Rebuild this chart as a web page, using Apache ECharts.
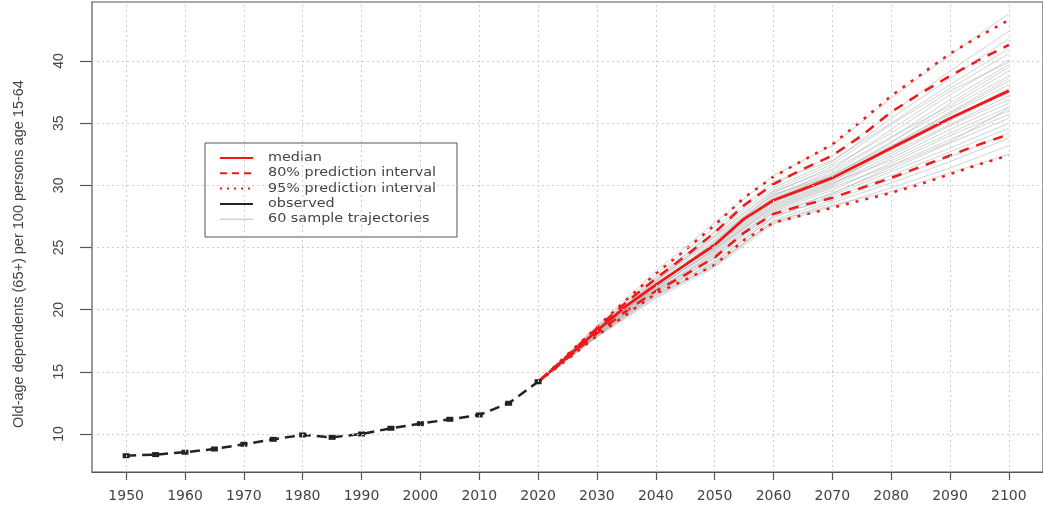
<!DOCTYPE html>
<html><head><meta charset="utf-8">
<script src="https://cdn.jsdelivr.net/npm/echarts@6/dist/echarts.min.js"></script>
<style>html,body{margin:0;padding:0;background:#fff}#c{width:1043px;height:510px}</style>
</head><body><div id="c"></div>
<script>
// ---------- data ----------
const obsYears = [1950,1955,1960,1965,1970,1975,1980,1985,1990,1995,2000,2005,2010,2015,2020];
const obsValues = [8.25,8.34,8.53,8.79,9.17,9.57,9.92,9.73,10.0,10.46,10.83,11.18,11.53,12.47,14.2];

const projYears = [2020,2025,2030,2035,2040,2045,2050,2055,2060,2065,2070,2075,2080,2085,2090,2095,2100];
const medianValues = [14.2,16.2,18.3,20.3,22.0,23.6,25.2,27.3,28.8,29.7,30.6,31.8,33.0,34.2,35.4,36.5,37.6];
const pi80Lower = [14.2,16.1,18.1,19.9,21.5,22.8,24.2,26.2,27.7,28.4,29.0,29.8,30.6,31.5,32.4,33.3,34.1];
const pi80Upper = [14.2,16.3,18.5,20.6,22.5,24.3,26.2,28.4,30.1,31.3,32.4,34.0,35.9,37.4,38.8,40.1,41.3];
const pi95Lower = [14.2,16.0,17.9,19.6,21.3,22.4,23.6,25.6,27.0,27.6,28.2,28.8,29.4,30.1,30.9,31.7,32.4];
const pi95Upper = [14.2,16.4,18.6,20.8,22.9,24.8,26.8,29.0,30.7,32.0,33.3,35.2,37.2,38.9,40.6,42.0,43.3];

const trajYears = [2020,2030,2040,2050,2060,2070,2080,2090,2100];
const trajectories = [
  [14.2,18.7,23.1,27.0,30.8,33.2,37.0,40.5,43.8],
  [14.2,18.5,22.6,26.3,30.1,32.4,35.8,39.2,42.4],
  [14.2,18.6,22.8,26.6,30.3,32.0,35.0,38.1,41.0],
  [14.2,18.4,22.4,26.0,29.6,31.7,34.9,37.8,40.6],
  [14.2,18.3,22.2,25.6,29.4,31.5,34.2,37.3,40.1],
  [14.2,18.5,22.3,25.8,29.2,31.0,33.8,36.9,39.7],
  [14.2,18.2,22.0,25.4,29.1,31.2,33.9,36.4,39.2],
  [14.2,18.4,22.1,25.2,28.9,30.8,33.5,36.2,38.8],
  [14.2,18.3,21.9,25.3,29.0,30.9,33.2,35.8,38.4],
  [14.2,18.1,21.7,24.9,28.6,30.5,33.0,35.7,38.1],
  [14.2,18.3,22.0,25.1,28.8,30.6,32.8,35.3,37.8],
  [14.2,18.2,21.8,24.8,28.5,30.3,32.9,35.2,37.5],
  [14.2,18.4,22.1,25.0,28.7,30.4,32.6,34.9,37.2],
  [14.2,18.0,21.6,24.6,28.3,30.1,32.4,34.8,36.9],
  [14.2,18.1,21.5,24.5,28.1,29.9,32.2,34.5,36.6],
  [14.2,18.3,21.8,24.7,28.4,30.2,32.0,34.2,36.3],
  [14.2,17.9,21.3,24.2,27.9,29.6,31.8,34.0,36.0],
  [14.2,18.2,21.6,24.4,28.0,29.8,31.6,33.7,35.7],
  [14.2,18.0,21.4,24.1,27.6,29.4,31.3,33.4,35.4],
  [14.2,17.9,21.2,23.9,27.4,29.2,31.1,33.0,35.0],
  [14.2,18.1,21.4,23.8,27.5,29.0,30.8,32.7,34.6],
  [14.2,17.8,21.0,23.6,27.2,28.8,30.5,32.3,34.2],
  [14.2,17.9,21.1,23.7,27.0,28.6,30.2,31.9,33.8],
  [14.2,17.8,20.9,23.4,26.9,28.3,29.8,31.4,33.2],
  [14.2,18.0,21.2,23.5,27.1,28.4,29.5,31.0,32.5],
  [14.2,18.6,22.5,26.2,29.8,31.9,35.4,38.6,41.8],
  [14.2,18.2,22.3,25.9,29.5,31.3,34.5,37.6,39.9],
  [14.2,18.1,21.9,25.5,29.3,30.7,33.4,36.6,39.5],
  [14.2,18.3,21.7,24.9,28.2,30.0,33.1,35.9,38.6],
  [14.2,17.9,21.5,24.3,27.8,29.3,31.5,33.5,36.2]
];

const xTicks = [1950,1960,1970,1980,1990,2000,2010,2020,2030,2040,2050,2060,2070,2080,2090,2100];
const yTicks = [10,15,20,25,30,35,40];
const yAxisTitle = 'Old-age dependents (65+) per 100 persons age 15-64';
const legendLabels = ['median','80% prediction interval','95% prediction interval','observed','60 sample trajectories'];

// ---------- build ----------
const zip = (xs, ys) => xs.map((x, i) => [x, ys[i]]);
const RED = '#f01818';
const series = [];

series.push({
  type: 'line', name: 'grid', data: [], z: 0, silent: true,
  markLine: {
    silent: true, symbol: 'none', label: {show: false}, animation: false,
    lineStyle: {type: [2, 3], color: '#cfcfcf', width: 1},
    emphasis: {disabled: true},
    data: xTicks.map(v => ({xAxis: v})).concat(yTicks.map(v => ({yAxis: v})))
  }
});

trajectories.forEach(t => series.push({
  type: 'line', name: '60 sample trajectories', data: zip(trajYears, t), z: 1,
  symbol: 'none', silent: true,
  lineStyle: {color: 'rgba(170,175,175,0.55)', width: 1}
}));

const redLine = (name, vals, type, w) => ({
  type: 'line', name, data: zip(projYears, vals), z: 3, symbol: 'none', silent: true,
  lineStyle: {color: RED, width: w, type}
});
series.push(redLine('95% prediction interval', pi95Lower, [3, 7], 2.5));
series.push(redLine('95% prediction interval', pi95Upper, [3, 7], 2.5));
series.push(redLine('80% prediction interval', pi80Lower, [10, 8], 2.5));
series.push(redLine('80% prediction interval', pi80Upper, [10, 8], 2.5));
series.push(redLine('median', medianValues, 'solid', 2.8));

series.push({
  type: 'line', name: 'observed', data: zip(obsYears, obsValues), z: 4, silent: true,
  symbol: 'rect', symbolSize: [7, 5], showSymbol: true,
  itemStyle: {color: '#222'},
  lineStyle: {color: '#222', width: 2.5, type: [10, 6]}
});

// legend as graphics
const legendTop = 158, legendStep = 15.3;
const legendStyles = [
  {stroke: RED, dash: null, w: 2},
  {stroke: RED, dash: [7, 5], w: 2},
  {stroke: RED, dash: [2, 5], w: 2},
  {stroke: '#222', dash: null, w: 2},
  {stroke: '#bbb', dash: null, w: 1}
];
const legendChildren = [{
  type: 'rect', shape: {x: 205, y: 143, width: 252, height: 94},
  style: {fill: '#fff', stroke: '#555', lineWidth: 1}
}];
legendLabels.forEach((lab, i) => {
  const y = legendTop + i * legendStep;
  const s = legendStyles[i];
  legendChildren.push({
    type: 'line', shape: {x1: 220, y1: y, x2: 253, y2: y},
    style: {stroke: s.stroke, lineWidth: s.w, lineDash: s.dash}
  });
  legendChildren.push({
    type: 'text', x: 268, y: y, scaleX: 1.25,
    style: {text: lab, fill: '#444', font: '11.5px "DejaVu Sans"', textVerticalAlign: 'middle', textAlign: 'left'}
  });
});

const option = {
  animation: false,
  backgroundColor: '#fff',
  grid: {left: 92, top: 2, width: 961, height: 470, show: true, borderColor: '#555', borderWidth: 1.2, containLabel: false},
  xAxis: {
    type: 'value', min: 1944.2, max: 2105.8,
    axisLine: {show: true, lineStyle: {color: '#555', width: 1.2}},
    axisTick: {show: true, customValues: xTicks, length: 8, lineStyle: {color: '#555', width: 1.2}},
    axisLabel: {customValues: xTicks, formatter: v => String(v), margin: 17, fontSize: 14, fontFamily: 'DejaVu Sans', color: '#444'},
    splitLine: {show: false}
  },
  yAxis: {
    type: 'value', min: 6.94, max: 44.75,
    name: yAxisTitle, nameLocation: 'middle', nameRotate: 90, nameGap: 66,
    nameTextStyle: {fontSize: 14.5, fontFamily: 'Liberation Sans', color: '#444', padding: [0, 34, 0, 0]},
    axisLine: {show: false},
    axisTick: {show: true, customValues: yTicks, length: 12, lineStyle: {color: '#555', width: 1.2}},
    axisLabel: {customValues: yTicks, formatter: v => String(v), rotate: 90, margin: 26, fontSize: 14, fontFamily: 'Liberation Sans', color: '#444'},
    splitLine: {show: false}
  },
  series,
  graphic: [{type: 'group', z: 100, children: legendChildren}]
};

const chart = echarts.init(document.getElementById('c'), null, {renderer: 'canvas'});
chart.setOption(option);
</script>
</body></html>
